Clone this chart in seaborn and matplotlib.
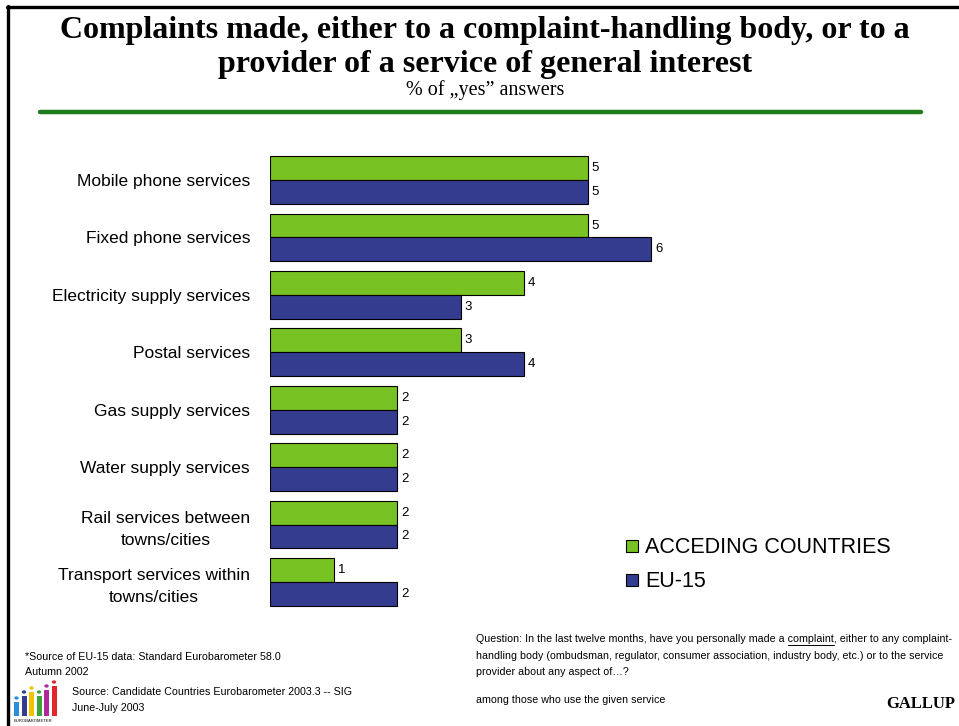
import matplotlib
matplotlib.use("Agg")
import matplotlib.pyplot as plt
from matplotlib.lines import Line2D
from matplotlib.patches import Rectangle, Circle
import pandas as pd
import seaborn as sns

# Services and the share of users who complained (%)
services = [
    "Mobile phone services",
    "Fixed phone services",
    "Electricity supply services",
    "Postal services",
    "Gas supply services",
    "Water supply services",
    "Rail services between\ntowns/cities",
    "Transport services within\ntowns/cities",
]
acceding = [5, 5, 4, 3, 2, 2, 2, 1]
eu15 = [5, 6, 3, 4, 2, 2, 2, 2]
series_names = ["ACCEDING COUNTRIES", "EU-15"]
series_colors = ["#78C224", "#333C8F"]

df = pd.DataFrame({
    "service": services * 2,
    "value": acceding + eu15,
    "group": [series_names[0]] * len(services) + [series_names[1]] * len(services),
})

sns.set_theme(style="white")
plt.rcParams["font.family"] = ["Liberation Sans", "DejaVu Sans"]
plt.rcParams["text.color"] = "black"
plt.rcParams["ytick.color"] = "black"
plt.rcParams["ytick.labelcolor"] = "black"

W, H = 959, 726
fig = plt.figure(figsize=(W / 100, H / 100), dpi=100)
fig.patch.set_facecolor("white")

def fx(px):
    return px / W

def fy(py):
    return 1 - py / H

# Bar chart area
ax_left, ax_right = 270, 714.5
ax_top, ax_bottom = 151.3, 610.7
ax = fig.add_axes([fx(ax_left), fy(ax_bottom), fx(ax_right - ax_left), (ax_bottom - ax_top) / H])

sns.barplot(
    data=df, y="service", x="value", hue="group", orient="h",
    palette=series_colors, hue_order=series_names, order=services,
    width=0.83, gap=0, saturation=1, edgecolor="black", linewidth=0.8,
    errorbar=None, ax=ax, legend=False,
)
ax.set_xlim(0, 7)
ax.set_ylim(7.5, -0.5)
ax.set_xlabel("")
ax.set_ylabel("")
ax.set_xticks([])
for s in ax.spines.values():
    s.set_visible(False)
ax.tick_params(axis="y", length=0, pad=14.4)
for lbl in ax.get_yticklabels():
    lbl.set_fontsize(12.5)
    lbl.set_color("black")
    lbl.set_multialignment("center")
    lbl.set_linespacing(1.55)

for cont in ax.containers:
    ax.bar_label(cont, fmt="%d", padding=3, fontsize=9.5, color="black")

# Legend
handles = [
    Line2D([], [], marker="s", linestyle="none", markersize=8.6,
           markerfacecolor=c, markeredgecolor="black", markeredgewidth=0.8)
    for c in series_colors
]
fig.legend(handles, series_names, loc="upper left",
           bbox_to_anchor=(fx(612.5), fy(528.5)), frameon=False,
           fontsize=15.5, handletextpad=0.12, labelspacing=0.62,
           borderaxespad=0, handlelength=1.0)

# Titles
serif = ["Liberation Serif", "DejaVu Serif"]
fig.text(fx(485), fy(38), "Complaints made, either to a complaint-handling body, or to a",
         ha="center", va="baseline", fontsize=23, fontweight="bold", family=serif)
fig.text(fx(485), fy(72), "provider of a service of general interest",
         ha="center", va="baseline", fontsize=23, fontweight="bold", family=serif)
fig.text(fx(485), fy(95), "% of \u201eyes\u201d answers",
         ha="center", va="baseline", fontsize=14.5, family=serif)

# Green rule under the heading
fig.add_artist(Line2D([fx(40), fx(921)], [fy(112), fy(112)], color="#1E7B1E", lw=3.2))

# Frame lines
fig.add_artist(Line2D([fx(8), fx(8)], [fy(6), 0], color="black", lw=2.4))
fig.add_artist(Line2D([fx(7), 1], [fy(6.5), fy(6.5)], color="black", lw=2.4))

# Footnotes
note_font = ["Liberation Sans", "DejaVu Sans"]
fs_note = 7.7
fig.text(fx(25), fy(657), "*Source of EU-15 data: Standard Eurobarometer 58.0",
         ha="left", va="center", fontsize=fs_note, family=note_font)
fig.text(fx(25), fy(672), "Autumn 2002", ha="left", va="center", fontsize=fs_note, family=note_font)
fig.text(fx(72), fy(692), "Source: Candidate Countries Eurobarometer 2003.3 -- SIG",
         ha="left", va="center", fontsize=fs_note, family=note_font)
fig.text(fx(72), fy(708), "June-July 2003", ha="left", va="center", fontsize=fs_note, family=note_font)

q_x = 476
q_prefix = "Question: In the last twelve months, have you personally made a "
q_word = "complaint"
q_rest = ", either to any complaint-"
fig.text(fx(q_x), fy(639), q_prefix + q_word + q_rest,
         ha="left", va="center", fontsize=fs_note, family=note_font)
fig.text(fx(q_x), fy(656),
         "handling body (ombudsman, regulator, consumer association, industry body, etc.) or to the service",
         ha="left", va="center", fontsize=fs_note, family=note_font)
fig.text(fx(q_x), fy(672), "provider about any aspect of\u2026?",
         ha="left", va="center", fontsize=fs_note, family=note_font)
fig.text(fx(q_x), fy(700), "among those who use the given service",
         ha="left", va="center", fontsize=fs_note, family=note_font)
fig.text(fx(955), fy(704), "GALLUP", ha="right", va="center", fontsize=12,
         fontweight="bold", family=serif)

# Underline the key word of the question
fig.canvas.draw()
renderer = fig.canvas.get_renderer()
tmp1 = fig.text(0, 0, q_prefix, fontsize=fs_note, family=note_font)
tmp2 = fig.text(0, 0, q_prefix + q_word, fontsize=fs_note, family=note_font)
w1 = tmp1.get_window_extent(renderer).width
w2 = tmp2.get_window_extent(renderer).width
tmp1.remove()
tmp2.remove()
fig.add_artist(Line2D([fx(q_x + w1), fx(q_x + w2)], [fy(645), fy(645)], color="black", lw=0.7))

# Small survey logo
logo_cols = ["#2A8FD9", "#333C8F", "#F2C200", "#3BA53B", "#B0289A", "#E3262B"]
logo_h = [14, 20, 24, 20, 26, 30]
for i, (c, h) in enumerate(zip(logo_cols, logo_h)):
    x = 14 + i * 7.5
    fig.add_artist(Rectangle((fx(x), fy(716)), fx(5), h / H, color=c, lw=0))
    fig.add_artist(Circle((fx(x + 2.5), fy(716 - h - 4)), 2.2 / W, color=c, lw=0))
fig.text(fx(14), fy(721), "EUROBAROMETER", ha="left", va="center", fontsize=3, family=note_font)

fig.savefig("out.png", dpi=100)
